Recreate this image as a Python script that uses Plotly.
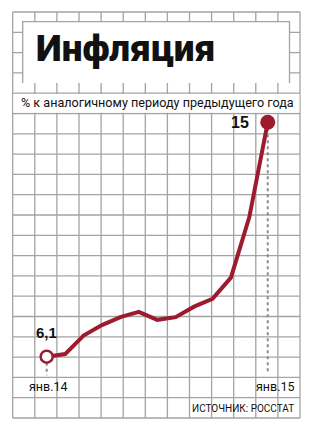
import plotly.graph_objects as go

months = ["янв.14", "фев.14", "мар.14", "апр.14", "май.14", "июн.14", "июл.14",
          "авг.14", "сен.14", "окт.14", "ноя.14", "дек.14", "янв.15"]
values = [6.1, 6.2, 6.9, 7.3, 7.6, 7.8, 7.5, 7.6, 8.0, 8.3, 9.1, 11.4, 15.0]
first_label = "6,1"
last_label = "15"
x_labels = ["янв.14", "янв.15"]
title = "Инфляция"
subtitle = "% к аналогичному периоду предыдущего года"
source = "ИСТОЧНИК: РОССТАТ"

W, H = 313, 435
RED = "#9c1b2f"
GRID = "#a3a3a3"
COND = "Roboto, Liberation Sans"

idx = list(range(len(values)))

fig = go.Figure()

# dotted drop lines from first and last points
fig.add_trace(go.Scatter(x=[idx[0], idx[0]], y=[values[0], 5.4], mode="lines",
                         line=dict(color="#8a8a8a", width=2, dash="dot"),
                         hoverinfo="skip", showlegend=False))
fig.add_trace(go.Scatter(x=[idx[-1], idx[-1]], y=[values[-1], 5.52], mode="lines",
                         line=dict(color="#8a8a8a", width=2, dash="dot"),
                         hoverinfo="skip", showlegend=False))

fig.add_trace(go.Scatter(x=idx, y=values, mode="lines",
                         line=dict(color=RED, width=4),
                         showlegend=False, text=months))
fig.add_trace(go.Scatter(x=[idx[0]], y=[values[0]], mode="markers",
                         marker=dict(size=12, color="white", line=dict(color=RED, width=2.5)),
                         showlegend=False))
fig.add_trace(go.Scatter(x=[idx[-1]], y=[values[-1]], mode="markers",
                         marker=dict(size=15, color=RED, line=dict(width=0)),
                         showlegend=False))

def py(px):
    return 1 - px / H

def pxx(px):
    return px / W

shapes = []
# grid
x0g, dxg, nx = 12.7, 22.1, 14
y0g, dyg, ny = 12.0, 20.3, 21
for i in range(nx):
    x = x0g + i * dxg
    shapes.append(dict(type="line", xref="paper", yref="paper", x0=pxx(x), x1=pxx(x),
                       y0=py(y0g), y1=py(y0g + (ny - 1) * dyg),
                       line=dict(color=GRID, width=1.3), layer="below"))
for j in range(ny):
    y = y0g + j * dyg
    shapes.append(dict(type="line", xref="paper", yref="paper", x0=pxx(x0g), x1=pxx(x0g + (nx - 1) * dxg),
                       y0=py(y), y1=py(y),
                       line=dict(color=GRID, width=1.3), layer="below"))
# title box
bx0, bx1, by0, by1 = 22.7, 289.5, 21.7, 83
shapes.append(dict(type="rect", xref="paper", yref="paper", x0=pxx(bx0), x1=pxx(bx1),
                   y0=py(by1), y1=py(by0), fillcolor="white", line=dict(width=0), layer="below"))
shapes.append(dict(type="path", xref="paper", yref="paper",
                   path=f"M {pxx(bx0)} {py(by1)} L {pxx(bx0)} {py(by0)} L {pxx(bx1)} {py(by0)} L {pxx(bx1)} {py(by1)}",
                   line=dict(color=GRID, width=1.3), layer="below"))
# subtitle band
sy0, sy1 = y0g + 4 * dyg, y0g + 5 * dyg
shapes.append(dict(type="rect", xref="paper", yref="paper", x0=pxx(x0g + 0.7), x1=pxx(x0g + 13 * dxg - 0.7),
                   y0=py(sy1 - 0.7), y1=py(sy0 + 0.7), fillcolor="white", line=dict(width=0), layer="below"))

annotations = [
    dict(text=title, xref="paper", yref="paper", x=pxx(34), y=py(48),
         xanchor="left", yanchor="middle", showarrow=False,
         font=dict(family="Roboto", size=37, color="#111111", weight=900)),
    dict(text=subtitle, xref="paper", yref="paper", x=pxx(157.5), y=py(103),
         xanchor="center", yanchor="middle", showarrow=False,
         font=dict(family=COND, size=12.6, color="#111111")),
    dict(text=f"<b>{first_label}</b>", x=idx[0], y=values[0], xref="x", yref="y",
         xanchor="center", yanchor="middle", yshift=24, showarrow=False,
         font=dict(family="Liberation Sans, Arial", size=15, color="#111111")),
    dict(text=f"<b>{last_label}</b>", x=idx[-1], y=values[-1], xref="x", yref="y",
         xanchor="center", yanchor="middle", xshift=-28, showarrow=False,
         font=dict(family="Liberation Sans, Arial", size=16, color="#111111")),
    dict(text=x_labels[0], x=idx[0], y=4.95, xref="x", yref="y",
         xanchor="center", yanchor="middle", xshift=2, showarrow=False,
         font=dict(family=COND, size=12.5, color="#111111")),
    dict(text=x_labels[1], x=idx[-1], y=4.95, xref="x", yref="y",
         xanchor="center", yanchor="middle", xshift=8, showarrow=False,
         font=dict(family=COND, size=12.5, color="#111111")),
    dict(text=source, xref="paper", yref="paper", x=pxx(296), y=py(408),
         xanchor="right", yanchor="middle", showarrow=False,
         font=dict(family=COND, size=10, color="#111111")),
]

fig.update_layout(
    width=W, height=H, margin=dict(l=0, r=0, t=0, b=0),
    paper_bgcolor="white", plot_bgcolor="white",
    xaxis=dict(range=[-2.535, 14.457], visible=False, fixedrange=True),
    yaxis=dict(range=[3.127, 19.642], visible=False, fixedrange=True),
    shapes=shapes, annotations=annotations, showlegend=False,
)

fig.write_html("out.html", config={"displayModeBar": False})
